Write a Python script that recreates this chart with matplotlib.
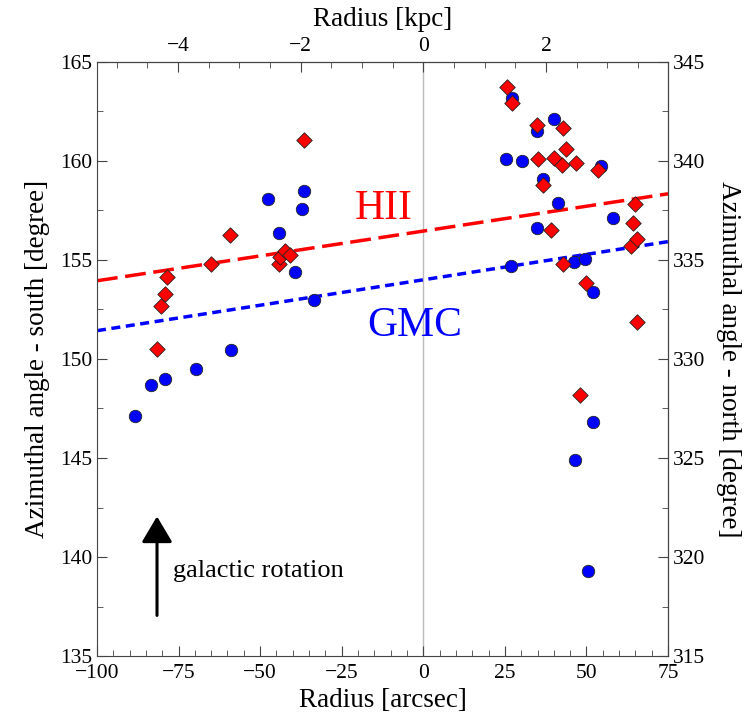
import matplotlib
matplotlib.use('Agg')
import numpy as np
import matplotlib.pyplot as plt
from matplotlib.ticker import MultipleLocator

plt.rcParams['font.family'] = ['Liberation Serif', 'DejaVu Serif']
plt.rcParams['mathtext.fontset'] = 'stix'

# GMC positions (radius in arcsec, azimuthal angle south in degree)
gmc_r = [-88.3, -83.3, -79.0, -69.8, -58.8, -47.5, -44.1, -39.2, -37.1, -36.6, -33.5,
         25.2, 27.0, 27.1, 30.2, 34.9, 34.9, 36.7, 40.2, 41.3, 46.2, 49.4, 52.0,
         54.4, 58.1, 52.1, 46.5, 50.6]
gmc_az = [147.1, 148.7, 149.0, 149.5, 150.45, 158.1, 156.35, 154.4, 157.55, 158.5, 153.0,
          160.1, 154.7, 163.2, 160.0, 161.5, 156.6, 159.1, 162.1, 157.9, 154.9, 155.05, 153.4,
          159.75, 157.1, 146.8, 144.9, 139.3]

# HII regions
hii_r = [-81.7, -80.4, -79.1, -78.6, -65.0, -59.3, -44.1, -43.9, -42.4, -40.9, -36.7,
         25.6, 27.1, 34.7, 35.1, 36.6, 39.2, 40.1, 42.4, 42.7, 42.8, 43.8, 46.8,
         47.9, 49.8, 53.6, 63.8, 64.3, 65.0, 65.6, 65.6]
hii_az = [150.5, 152.7, 153.3, 154.15, 154.8, 156.25, 154.8, 155.15, 155.45, 155.25, 161.05,
          163.75, 162.95, 161.8, 160.1, 158.8, 156.5, 160.15, 159.8, 154.8, 161.65, 160.6, 159.9,
          148.2, 153.85, 159.55, 155.7, 156.85, 157.85, 156.05, 151.85]

# linear fits: slope, intercept
hii_fit = (0.0251, 156.46)
gmc_fit = (0.0257, 154.0)

arcsec_per_kpc = 18.8

LABEL_FS = 19.5
TICK_FS = 15.5

fig = plt.figure(figsize=(7.54, 7.19), dpi=100)
ax = fig.add_axes([0.1286, 0.0876, 0.7574, 0.8262])

ax.axvline(0, color='#bbbbbb', lw=1, zorder=0)

xx = np.array([-100, 75])
ax.plot(xx, hii_fit[0] * xx + hii_fit[1], color='red', lw=2.5, dashes=(6, 2.2), zorder=1)
ax.plot(xx, gmc_fit[0] * xx + gmc_fit[1], color='blue', lw=2.5, dashes=(2.6, 1.6), zorder=1)

ax.scatter(gmc_r, gmc_az, s=80, marker='o', color='blue', edgecolor='#222222',
           linewidth=0.6, zorder=3)
ax.scatter(hii_r, hii_az, s=62, marker='D', color='red', edgecolor='#222222',
           linewidth=0.6, zorder=4)

ax.text(-12.1, 157.6, 'HII', color='red', fontsize=30, ha='center', va='center')
ax.text(-2.5, 151.7, 'GMC', color='blue', fontsize=30, ha='center', va='center')

ax.annotate('', xy=(-81.6, 142.05), xytext=(-81.6, 137.05),
            arrowprops=dict(arrowstyle='-|>,head_width=0.95,head_length=1.6',
                            color='black', lw=2.2, shrinkA=0, shrinkB=0))
ax.text(-76.7, 139.0, 'galactic rotation', fontsize=19, va='baseline', ha='left')

ax.set_xlim(-100, 75)
ax.set_ylim(135, 165)
ax.xaxis.set_major_locator(MultipleLocator(25))
ax.xaxis.set_minor_locator(MultipleLocator(5))
ax.yaxis.set_major_locator(MultipleLocator(5))
ax.yaxis.set_minor_locator(MultipleLocator(2.5))
ax.set_xlabel('Radius [arcsec]', fontsize=LABEL_FS, labelpad=3)
ax.set_ylabel('Azimuthal angle - south [degree]', fontsize=LABEL_FS, labelpad=7)

for sp in ax.spines.values():
    sp.set_color('#444444')
ax.tick_params(which='both', direction='in', colors='#444444', labelcolor='black',
               labelsize=TICK_FS, top=False, right=False)
ax.tick_params(axis='x', which='major', pad=6)
ax.tick_params(which='major', length=7)
ax.tick_params(which='minor', length=4)

secx = ax.secondary_xaxis('top', functions=(lambda r: r / arcsec_per_kpc,
                                            lambda k: k * arcsec_per_kpc))
secx.xaxis.set_major_locator(MultipleLocator(2))
secx.xaxis.set_minor_locator(MultipleLocator(0.5))
secx.tick_params(which='both', direction='in', colors='#444444', labelcolor='black',
                 labelsize=TICK_FS)
secx.tick_params(which='major', length=7, pad=4)
secx.tick_params(which='minor', length=4)
secx.set_xlabel('Radius [kpc]', fontsize=LABEL_FS, labelpad=8)

secy = ax.secondary_yaxis('right', functions=(lambda a: a + 180, lambda a: a - 180))
secy.yaxis.set_major_locator(MultipleLocator(5))
secy.yaxis.set_minor_locator(MultipleLocator(2.5))
secy.tick_params(which='both', direction='in', colors='#444444', labelcolor='black',
                 labelsize=TICK_FS)
secy.tick_params(which='major', length=7)
secy.tick_params(which='minor', length=4)
secy.set_ylabel('Azimuthal angle - north [degree]', fontsize=LABEL_FS, rotation=270,
                labelpad=8, va='bottom')

fig.savefig('out.png', dpi=100)
